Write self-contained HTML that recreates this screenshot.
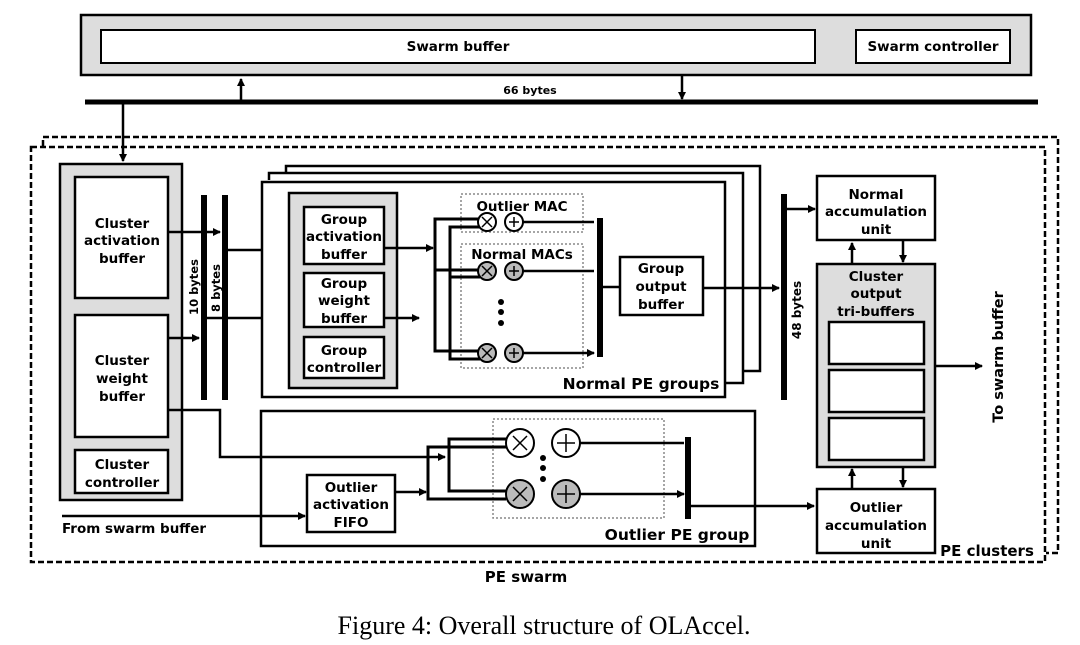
<!DOCTYPE html><html><head><meta charset="utf-8"><style>body{margin:0;background:#fff}svg{display:block}text{font-family:"DejaVu Sans","Liberation Sans",sans-serif;font-weight:bold;fill:#000}</style></head><body>
<svg width="1080" height="645" viewBox="0 0 1080 645" xmlns="http://www.w3.org/2000/svg">
<defs><marker id="a" markerWidth="8" markerHeight="8" refX="7" refY="4" orient="auto" markerUnits="userSpaceOnUse"><path d="M0,0L8,4L0,8z"/></marker></defs>
<g stroke="#000" fill="none">
<rect x="81" y="15" width="950" height="60" fill="#ddd" stroke-width="2.5"/>
<rect x="101" y="30" width="714" height="33" fill="#fff" stroke-width="2"/>
<rect x="856" y="30" width="154" height="33" fill="#fff" stroke-width="2"/>
<line x1="85" y1="102" x2="1038" y2="102" stroke-width="5"/>
<line x1="241" y1="100" x2="241" y2="79" stroke-width="2.5" marker-end="url(#a)"/>
<line x1="682" y1="76" x2="682" y2="99" stroke-width="2.5" marker-end="url(#a)"/>
<line x1="123" y1="104" x2="123" y2="161" stroke-width="2.5" marker-end="url(#a)"/>
<path d="M43,146V137H1058V553H1046" stroke-width="2.5" stroke-dasharray="6,3"/>
<rect x="31" y="147" width="1014" height="415" stroke-width="2.5" stroke-dasharray="6,3"/>
<rect x="60" y="164" width="122" height="336" fill="#ddd" stroke-width="2.5"/>
<rect x="75" y="177" width="93" height="121" fill="#fff" stroke-width="2.5"/>
<rect x="75" y="315" width="93" height="122" fill="#fff" stroke-width="2.5"/>
<rect x="75" y="450" width="93" height="43" fill="#fff" stroke-width="2.5"/>
<line x1="204" y1="195" x2="204" y2="400" stroke-width="6"/>
<line x1="225" y1="195" x2="225" y2="400" stroke-width="6"/>
<line x1="168" y1="232" x2="220" y2="232" stroke-width="2.5" marker-end="url(#a)"/>
<line x1="168" y1="338" x2="199" y2="338" stroke-width="2.5" marker-end="url(#a)"/>
<line x1="228" y1="250" x2="278" y2="250" stroke-width="2.5" marker-end="url(#a)"/>
<line x1="206" y1="318" x2="278" y2="318" stroke-width="2.5" marker-end="url(#a)"/>
<path d="M286,172V166H760V371H743" stroke-width="2.5"/>
<path d="M269,180V173H743V383H725" stroke-width="2.5"/>
<rect x="262" y="182" width="463" height="215" fill="#fff" stroke-width="2.5"/>
<rect x="289" y="193" width="108" height="195" fill="#ddd" stroke-width="2.5"/>
<rect x="304" y="207" width="80" height="57" fill="#fff" stroke-width="2.5"/>
<rect x="304" y="273" width="80" height="54" fill="#fff" stroke-width="2.5"/>
<rect x="304" y="337" width="80" height="41" fill="#fff" stroke-width="2.5"/>
<line x1="384" y1="248" x2="433" y2="248" stroke-width="2.5" marker-end="url(#a)"/>
<line x1="384" y1="318" x2="419" y2="318" stroke-width="2.5" marker-end="url(#a)"/>
<rect x="461" y="194" width="122" height="38" stroke="#888" stroke-width="1.5" stroke-dasharray="2,2"/>
<rect x="461" y="244" width="122" height="124" stroke="#888" stroke-width="1.5" stroke-dasharray="2,2"/>
<path d="M480,219H435V351H480M435,270H480" stroke-width="3"/>
<path d="M480,227H450V359H480M450,277H480" stroke-width="3"/>
<g stroke-width="2.5">
<path d="M522,222H594M522,271H594M522,353H594" marker-end="url(#a)"/>
</g>
<line x1="600" y1="218" x2="600" y2="357" stroke-width="6"/>
<rect x="620" y="257" width="83" height="58" fill="#fff" stroke-width="2.5"/>
<line x1="600" y1="287" x2="620" y2="287" stroke-width="2.5"/>
<line x1="703" y1="288" x2="779" y2="288" stroke-width="2.5" marker-end="url(#a)"/>
<line x1="784" y1="194" x2="784" y2="400" stroke-width="6"/>
<line x1="786" y1="209" x2="815" y2="209" stroke-width="2.5" marker-end="url(#a)"/>
<rect x="817" y="176" width="118" height="64" fill="#fff" stroke-width="2.5"/>
<rect x="817" y="264" width="118" height="203" fill="#ddd" stroke-width="2.5"/>
<rect x="829" y="322" width="95" height="42" fill="#fff" stroke-width="2.5"/>
<rect x="829" y="370" width="95" height="42" fill="#fff" stroke-width="2.5"/>
<rect x="829" y="418" width="95" height="42" fill="#fff" stroke-width="2.5"/>
<rect x="817" y="489" width="118" height="64" fill="#fff" stroke-width="2.5"/>
<line x1="852" y1="263" x2="852" y2="243" stroke-width="2.5" marker-end="url(#a)"/>
<line x1="903" y1="241" x2="903" y2="262" stroke-width="2.5" marker-end="url(#a)"/>
<line x1="852" y1="488" x2="852" y2="469" stroke-width="2.5" marker-end="url(#a)"/>
<line x1="903" y1="468" x2="903" y2="487" stroke-width="2.5" marker-end="url(#a)"/>
<line x1="935" y1="366" x2="982" y2="366" stroke-width="2.5" marker-end="url(#a)"/>
<rect x="261" y="411" width="494" height="135" fill="#fff" stroke-width="2.5"/>
<path d="M168,410H220V457H445" stroke-width="2.5" marker-end="url(#a)"/>
<line x1="62" y1="516" x2="305" y2="516" stroke-width="2.5" marker-end="url(#a)"/>
<rect x="307" y="475" width="88" height="57" fill="#fff" stroke-width="2.5"/>
<line x1="395" y1="492" x2="426" y2="492" stroke-width="2.5" marker-end="url(#a)"/>
<rect x="493" y="419" width="171" height="99" stroke="#888" stroke-width="1.5" stroke-dasharray="2,2"/>
<path d="M506,447H428V499H506" stroke-width="3"/>
<path d="M506,439H449V491H506" stroke-width="3"/>
<path d="M580,443H684M580,494H684" stroke-width="2.5" marker-end="url(#a)"/>
<line x1="688" y1="437" x2="688" y2="519" stroke-width="6"/>
<line x1="690" y1="506" x2="814" y2="506" stroke-width="2.5" marker-end="url(#a)"/>
<g stroke-width="2">
<circle cx="487" cy="222" r="9" fill="#fff"/><circle cx="514" cy="222" r="9" fill="#fff"/>
<circle cx="487" cy="271" r="9" fill="#bbb"/><circle cx="514" cy="271" r="9" fill="#bbb"/>
<circle cx="487" cy="353" r="9" fill="#bbb"/><circle cx="514" cy="353" r="9" fill="#bbb"/>
<circle cx="520" cy="443" r="14" fill="#fff"/><circle cx="566" cy="443" r="14" fill="#fff"/>
<circle cx="520" cy="494" r="14" fill="#bbb"/><circle cx="566" cy="494" r="14" fill="#bbb"/>
</g>
<g stroke-width="1.5">
<path d="M482,217l10,10M492,217l-10,10M509,222h10M514,217v10"/>
<path d="M482,266l10,10M492,266l-10,10M509,271h10M514,266v10"/>
<path d="M482,348l10,10M492,348l-10,10M509,353h10M514,348v10"/>
<path d="M513,436l14,14M527,436l-14,14M557,443h18M566,434v18"/>
<path d="M513,487l14,14M527,487l-14,14M557,494h18M566,485v18"/>
</g>
</g>
<g>
<circle cx="501" cy="302" r="3"/><circle cx="501" cy="312" r="3"/><circle cx="501" cy="323" r="3"/>
<circle cx="543" cy="458" r="3"/><circle cx="543" cy="468" r="3"/><circle cx="543" cy="479" r="3"/>
</g>
<g font-size="13.5" text-anchor="middle">
<text x="458" y="51">Swarm buffer</text>
<text x="933" y="51">Swarm controller</text>
<text x="530" y="94" font-size="11">66 bytes</text>
<text x="122" y="228">Cluster</text><text x="122" y="245">activation</text><text x="122" y="263">buffer</text>
<text x="122" y="365">Cluster</text><text x="122" y="383">weight</text><text x="122" y="401">buffer</text>
<text x="122" y="469">Cluster</text><text x="122" y="487">controller</text>
<text x="344" y="224">Group</text><text x="344" y="241">activation</text><text x="344" y="259">buffer</text>
<text x="344" y="288">Group</text><text x="344" y="305">weight</text><text x="344" y="323">buffer</text>
<text x="344" y="355">Group</text><text x="344" y="372">controller</text>
<text x="522" y="211">Outlier MAC</text>
<text x="522" y="259">Normal  MACs</text>
<text x="661" y="273">Group</text><text x="661" y="291">output</text><text x="661" y="309">buffer</text>
<text x="876" y="199">Normal</text><text x="876" y="216">accumulation</text><text x="876" y="234">unit</text>
<text x="876" y="281">Cluster</text><text x="876" y="298">output</text><text x="876" y="316">tri-buffers</text>
<text x="876" y="512">Outlier</text><text x="876" y="530">accumulation</text><text x="876" y="548">unit</text>
<text x="351" y="492">Outlier</text><text x="351" y="509">activation</text><text x="351" y="527">FIFO</text>
<text x="641" y="389" font-size="15.5">Normal PE groups</text>
<text x="677" y="540" font-size="15.5">Outlier PE group</text>
<text x="987" y="556" font-size="15">PE clusters</text>
<text x="526" y="582" font-size="15">PE swarm</text>
<text x="134" y="533">From swarm buffer</text>
<text transform="translate(198,287) rotate(-90)" font-size="11.5">10 bytes</text>
<text transform="translate(220,288) rotate(-90)" font-size="11.5">8 bytes</text>
<text transform="translate(801,310) rotate(-90)" font-size="12">48 bytes</text>
<text transform="translate(1003,357) rotate(-90)" font-size="14.5">To swarm buffer</text>
<text x="544" y="634" font-size="26" style="font-family:'Liberation Serif',serif;font-weight:normal">Figure 4: Overall structure of OLAccel.</text>
</g>
</svg></body></html>
